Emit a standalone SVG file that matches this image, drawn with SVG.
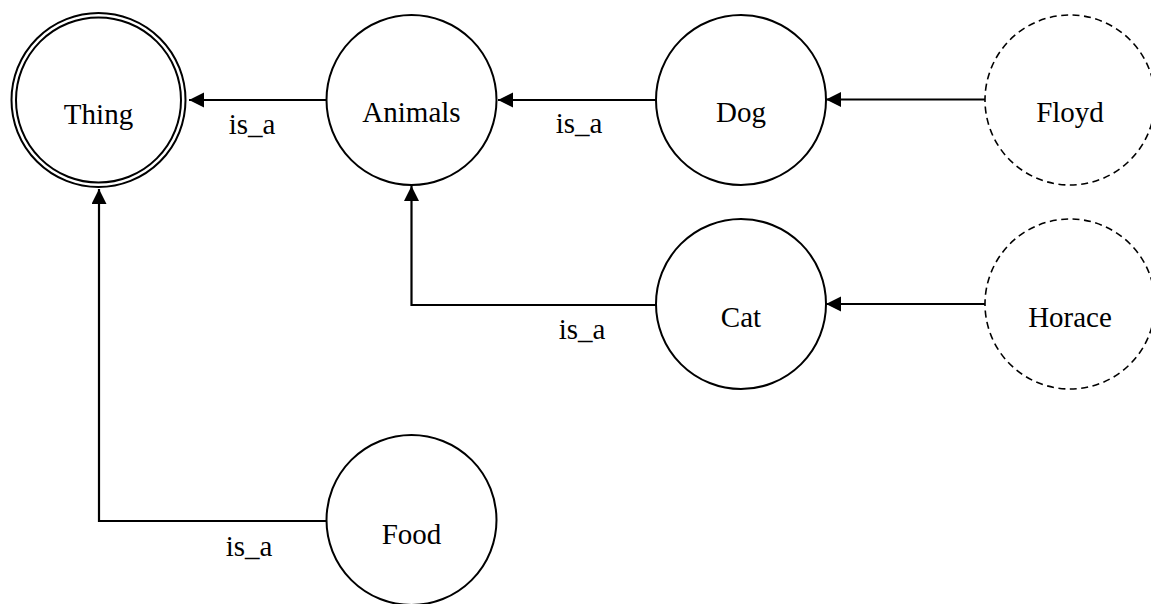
<svg xmlns="http://www.w3.org/2000/svg" width="1151" height="604" viewBox="0 0 1151 604">
<defs>
<marker id="arr" markerUnits="userSpaceOnUse" markerWidth="16" markerHeight="16" refX="15" refY="7.5" orient="auto">
<path d="M0,0 L15,7.5 L0,15 z" fill="#000"/>
</marker>
</defs>
<style>
.n{fill:#fff;stroke:#000;stroke-width:2}
.d{fill:#fff;stroke:#000;stroke-width:1.6;stroke-dasharray:7 4.5}
.t{font-family:"Liberation Serif","Times New Roman",serif;font-size:29px;fill:#000;text-anchor:middle}
.e{fill:none;stroke:#000;stroke-width:2.2;marker-end:url(#arr)}
</style>
<rect width="1151" height="604" fill="#fff"/>
<g id="connectors">
<path class="e" d="M326.5,100 L189,100"/>
<path class="e" d="M656,100 L498,100"/>
<path class="e" d="M985,99.5 L826,99.5"/>
<path class="e" d="M985,304 L826,304"/>
<path class="e" d="M656,305 L411.5,305 L411.5,186"/>
<path class="e" d="M326,521 L99,521 L99,189"/>
<text class="t" x="252" y="134">is_a</text>
<text class="t" x="579" y="133">is_a</text>
<text class="t" x="582" y="339">is_a</text>
<text class="t" x="249" y="556">is_a</text>
</g>
<g id="thing">
<circle class="n" cx="98.5" cy="100" r="87" stroke-width="1.6"/>
<circle class="n" cx="98.5" cy="100" r="82.5" stroke-width="1.6"/>
<text class="t" x="98.5" y="124">Thing</text>
</g>
<g id="animals">
<circle class="n" cx="411.5" cy="100" r="85"/>
<text class="t" x="411.5" y="122">Animals</text>
</g>
<g id="dog">
<circle class="n" cx="741" cy="100" r="85"/>
<text class="t" x="741" y="122">Dog</text>
</g>
<g id="floyd">
<circle class="d" cx="1070" cy="100" r="85"/>
<text class="t" x="1070" y="122">Floyd</text>
</g>
<g id="cat">
<circle class="n" cx="741" cy="304" r="85"/>
<text class="t" x="741" y="327">Cat</text>
</g>
<g id="horace">
<circle class="d" cx="1070" cy="304" r="85"/>
<text class="t" x="1070" y="327">Horace</text>
</g>
<g id="food">
<circle class="n" cx="411.5" cy="520" r="85"/>
<text class="t" x="411.5" y="544">Food</text>
</g>
</svg>
